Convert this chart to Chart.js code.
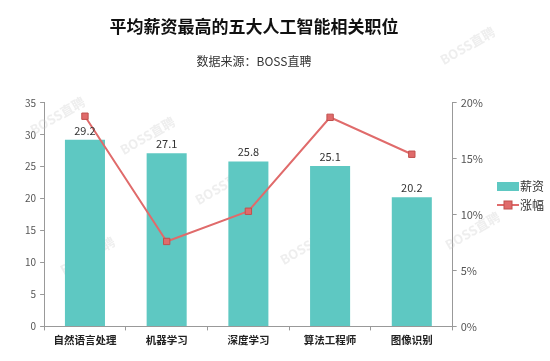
<!DOCTYPE html>
<html>
<head>
<meta charset="utf-8">
<script src="https://cdn.jsdelivr.net/npm/chart.js@4"></script>
<style>
html,body{margin:0;padding:0;background:#fff;}
#wrap{width:550px;height:361px;position:relative;}
</style>
</head>
<body>
<div id="wrap"><canvas id="c" width="550" height="361"></canvas></div>
<script>
const categories = ['自然语言处理', '机器学习', '深度学习', '算法工程师', '图像识别'];
const salary = [29.2, 27.1, 25.8, 25.1, 20.2];
const growth = [18.8, 7.6, 10.3, 18.7, 15.4];
const leftTicks = [0, 5, 10, 15, 20, 25, 30, 35];
const rightTicks = [0, 5, 10, 15, 20];
const seriesNames = ['薪资', '涨幅'];

const FONT = '"Noto Sans CJK SC", "Microsoft YaHei", sans-serif';
const barColor = '#5EC8C2';
const lineColor = '#E06B6B';
const markerBorder = '#C0504D';

const extras = {
  id: 'extras',
  beforeDatasetsDraw(chart) {
    const ctx = chart.ctx;
    ctx.save();
    ctx.font = 'bold 13px ' + FONT;
    ctx.fillStyle = 'rgba(200,200,200,0.3)';
    const marks = [[150, 140], [225, 190], [90, 260], [310, 250], [470, 50], [475, 235], [60, 120]];
    marks.forEach(([x, y]) => {
      ctx.save(); ctx.translate(x, y); ctx.rotate(-Math.PI / 6);
      ctx.textAlign = 'center'; ctx.fillText('BOSS直聘', 0, 0);
      ctx.restore();
    });
    ctx.restore();
  },
  afterDatasetsDraw(chart) {
    const ctx = chart.ctx;
    const meta = chart.getDatasetMeta(1);
    ctx.save();
    ctx.font = '11px ' + FONT;
    ctx.fillStyle = '#333';
    ctx.textAlign = 'center';
    ctx.textBaseline = 'bottom';
    meta.data.forEach((bar, i) => {
      ctx.fillText(salary[i].toFixed(1), bar.x, bar.y - 4);
    });
    ctx.restore();
  },
  afterDraw(chart) {
    const ctx = chart.ctx;
    ctx.save();
    const lx = 497, ly1 = 186, ly2 = 205;
    ctx.fillStyle = barColor;
    ctx.fillRect(lx, ly1 - 4, 22, 9);
    ctx.strokeStyle = lineColor;
    ctx.lineWidth = 2;
    ctx.beginPath(); ctx.moveTo(lx, ly2); ctx.lineTo(lx + 22, ly2); ctx.stroke();
    ctx.fillStyle = lineColor;
    ctx.fillRect(lx + 7, ly2 - 4, 8, 8);
    ctx.strokeStyle = markerBorder; ctx.lineWidth = 1;
    ctx.strokeRect(lx + 7, ly2 - 4, 8, 8);
    ctx.fillStyle = '#333';
    ctx.font = '12px ' + FONT;
    ctx.textBaseline = 'middle';
    ctx.textAlign = 'left';
    ctx.fillText(seriesNames[0], lx + 23, ly1);
    ctx.fillText(seriesNames[1], lx + 23, ly2);
    ctx.restore();
  }
};

new Chart(document.getElementById('c'), {
  data: {
    labels: categories,
    datasets: [
      {
        type: 'line', label: seriesNames[1], data: growth, yAxisID: 'y2',
        borderColor: lineColor, borderWidth: 2, backgroundColor: lineColor,
        pointStyle: 'rect', pointRadius: 4.5, pointBackgroundColor: lineColor,
        pointBorderColor: markerBorder, pointBorderWidth: 1, tension: 0, order: 0
      },
      {
        type: 'bar', label: seriesNames[0], data: salary, yAxisID: 'y',
        backgroundColor: barColor, borderWidth: 0, barPercentage: 0.49, categoryPercentage: 1, order: 1
      }
    ]
  },
  options: {
    responsive: false,
    animation: false,
    layout: { padding: { left: 21, right: 63, bottom: 12 } },
    plugins: {
      legend: { display: false },
      tooltip: { enabled: false },
      title: {
        display: true, text: '平均薪资最高的五大人工智能相关职位',
        font: { family: FONT, size: 17, weight: 'bold' }, color: '#111',
        padding: { top: 16, bottom: 18 }
      },
      subtitle: {
        display: true, text: '数据来源：BOSS直聘',
        font: { family: FONT, size: 12 }, color: '#333',
        padding: { bottom: 34 }
      }
    },
    scales: {
      x: {
        offset: true,
        grid: { offset: true, drawOnChartArea: false, color: '#999', tickLength: 4 },
        border: { color: '#999' },
        ticks: { color: '#222', font: { family: FONT, size: 10.5, weight: 'bold' }, padding: 3 }
      },
      y: {
        position: 'left', min: 0, max: 35,
        afterBuildTicks(s) { s.ticks = leftTicks.map(v => ({ value: v })); },
        grid: { drawOnChartArea: false, color: '#999', tickLength: 4 },
        border: { color: '#999' },
        ticks: { color: '#555', font: { family: FONT, size: 10 }, padding: 4 }
      },
      y2: {
        position: 'right', min: 0, max: 20,
        afterBuildTicks(s) { s.ticks = rightTicks.map(v => ({ value: v })); },
        grid: { drawOnChartArea: false, color: '#999', tickLength: 4 },
        border: { color: '#999' },
        ticks: { color: '#555', font: { family: FONT, size: 11 }, padding: 4, callback: v => v + '%' }
      }
    }
  },
  plugins: [extras]
});
</script>
</body>
</html>
